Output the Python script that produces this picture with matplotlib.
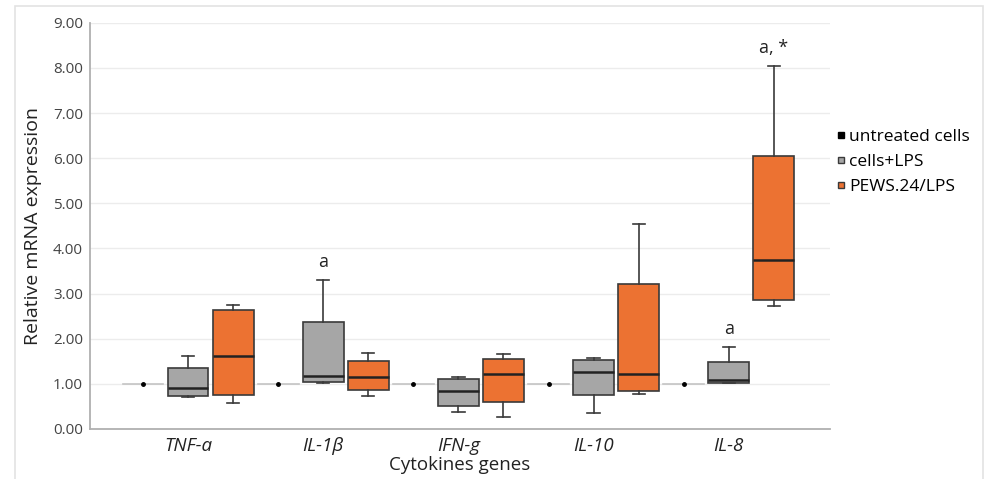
import matplotlib
matplotlib.use("Agg")
import matplotlib.pyplot as plt
from matplotlib.patches import Rectangle
from matplotlib.lines import Line2D

plt.rcParams["font.family"] = ["Open Sans", "DejaVu Sans"]

# Data
genes = ["TNF-a", "IL-1β", "IFN-g", "IL-10", "IL-8"]
untreated = [1.0, 1.0, 1.0, 1.0, 1.0]

# cells+LPS: whisker low, Q1, median, Q3, whisker high
lps_lo = [0.71, 1.02, 0.38, 0.35, 1.01]
lps_q1 = [0.73, 1.04, 0.51, 0.75, 1.03]
lps_med = [0.91, 1.18, 0.84, 1.26, 1.08]
lps_q3 = [1.36, 2.38, 1.11, 1.52, 1.48]
lps_hi = [1.61, 3.31, 1.15, 1.57, 1.82]

# PEWS.24/LPS
pews_lo = [0.58, 0.74, 0.26, 0.77, 2.72]
pews_q1 = [0.76, 0.87, 0.60, 0.85, 2.86]
pews_med = [1.62, 1.16, 1.21, 1.22, 3.75]
pews_q3 = [2.64, 1.50, 1.55, 3.22, 6.04]
pews_hi = [2.74, 1.68, 1.66, 4.55, 8.05]

# significance labels: (gene index, series, text)
marks = [(1, "lps", "a"), (4, "lps", "a"), (4, "pews", "a, *")]

gray = "#a6a6a6"
orange = "#ec7232"
edge = "#3a3a3a"


def make_stats(lo, q1, med, q3, hi):
    return [dict(whislo=a, q1=b, med=c, q3=d, whishi=e, fliers=[])
            for a, b, c, d, e in zip(lo, q1, med, q3, hi)]


fig = plt.figure(figsize=(9.84, 4.79), dpi=100)
ax = fig.add_axes([0.0915, 0.1044, 0.752, 0.848])

n = len(genes)
pos_unt = [3 * i for i in range(n)]
pos_lps = [3 * i + 1 for i in range(n)]
pos_pews = [3 * i + 2 for i in range(n)]

# untreated: flat reference line with a dot
for p, v in zip(pos_unt, untreated):
    ax.plot([p - 0.45, p + 0.45], [v, v], color="#c4c4c4", lw=1.2, zorder=2)
ax.plot(pos_unt, untreated, "o", color="black", ms=2.5, zorder=3)

for stats, pos, col in [(make_stats(lps_lo, lps_q1, lps_med, lps_q3, lps_hi), pos_lps, gray),
                        (make_stats(pews_lo, pews_q1, pews_med, pews_q3, pews_hi), pos_pews, orange)]:
    ax.bxp(stats, positions=pos, widths=0.9, capwidths=0.27, showfliers=False,
           patch_artist=True,
           boxprops=dict(facecolor=col, edgecolor=edge, linewidth=1.2),
           medianprops=dict(color="#222222", linewidth=1.8),
           whiskerprops=dict(color=edge, linewidth=1.2),
           capprops=dict(color=edge, linewidth=1.2), zorder=3)

for i, series, txt in marks:
    if series == "lps":
        x, top = pos_lps[i], lps_hi[i]
    else:
        x, top = pos_pews[i], pews_hi[i]
    ax.text(x, top + 0.2, txt, ha="center", va="bottom", fontsize=13, color="#222222")

ax.set_xlim(-1.18, 15.25)
ax.set_ylim(0, 9)
ax.set_yticks(range(10))
ax.set_yticklabels([f"{v:.2f}" for v in range(10)], fontsize=11, color="#444444")
ax.set_xticks(pos_lps)
ax.set_xticklabels(genes, fontsize=13.5, style="italic", color="#222222")
ax.tick_params(axis="both", length=0, pad=5)
ax.tick_params(axis="x", pad=6)
ax.set_ylabel("Relative mRNA expression", fontsize=14, color="#222222", labelpad=8)
ax.set_xlabel("Cytokines genes", fontsize=13.5, color="#222222")
ax.xaxis.set_label_coords(0.499, -0.089)
ax.xaxis.label.set_va("center")

ax.grid(axis="y", color="#ececec", lw=1)
ax.set_axisbelow(True)
for s in ["top", "right"]:
    ax.spines[s].set_visible(False)
for s in ["left", "bottom"]:
    ax.spines[s].set_color("#b0b0b0")
    ax.spines[s].set_linewidth(1.3)

handles = [Line2D([], [], ls="none", marker="s", ms=4.5, mfc="black", mec="black"),
           Line2D([], [], ls="none", marker="s", ms=4.5, mfc=gray, mec=edge),
           Line2D([], [], ls="none", marker="s", ms=4.5, mfc=orange, mec=edge)]
fig.legend(handles, ["untreated cells", "cells+LPS", "PEWS.24/LPS"],
           loc="upper left", bbox_to_anchor=(0.843, 0.745), frameon=False,
           fontsize=12.5, handlelength=0.5, handletextpad=0.25, labelspacing=0.5,
           borderaxespad=0)

# light outer frame of the original figure
fig.patches.append(Rectangle((15 / 984, -0.1), 968 / 984, 1 - 6 / 479 + 0.1,
                             transform=fig.transFigure, fill=False,
                             edgecolor="#e3e3e3", lw=1.2))

fig.savefig("out.png", dpi=100)
